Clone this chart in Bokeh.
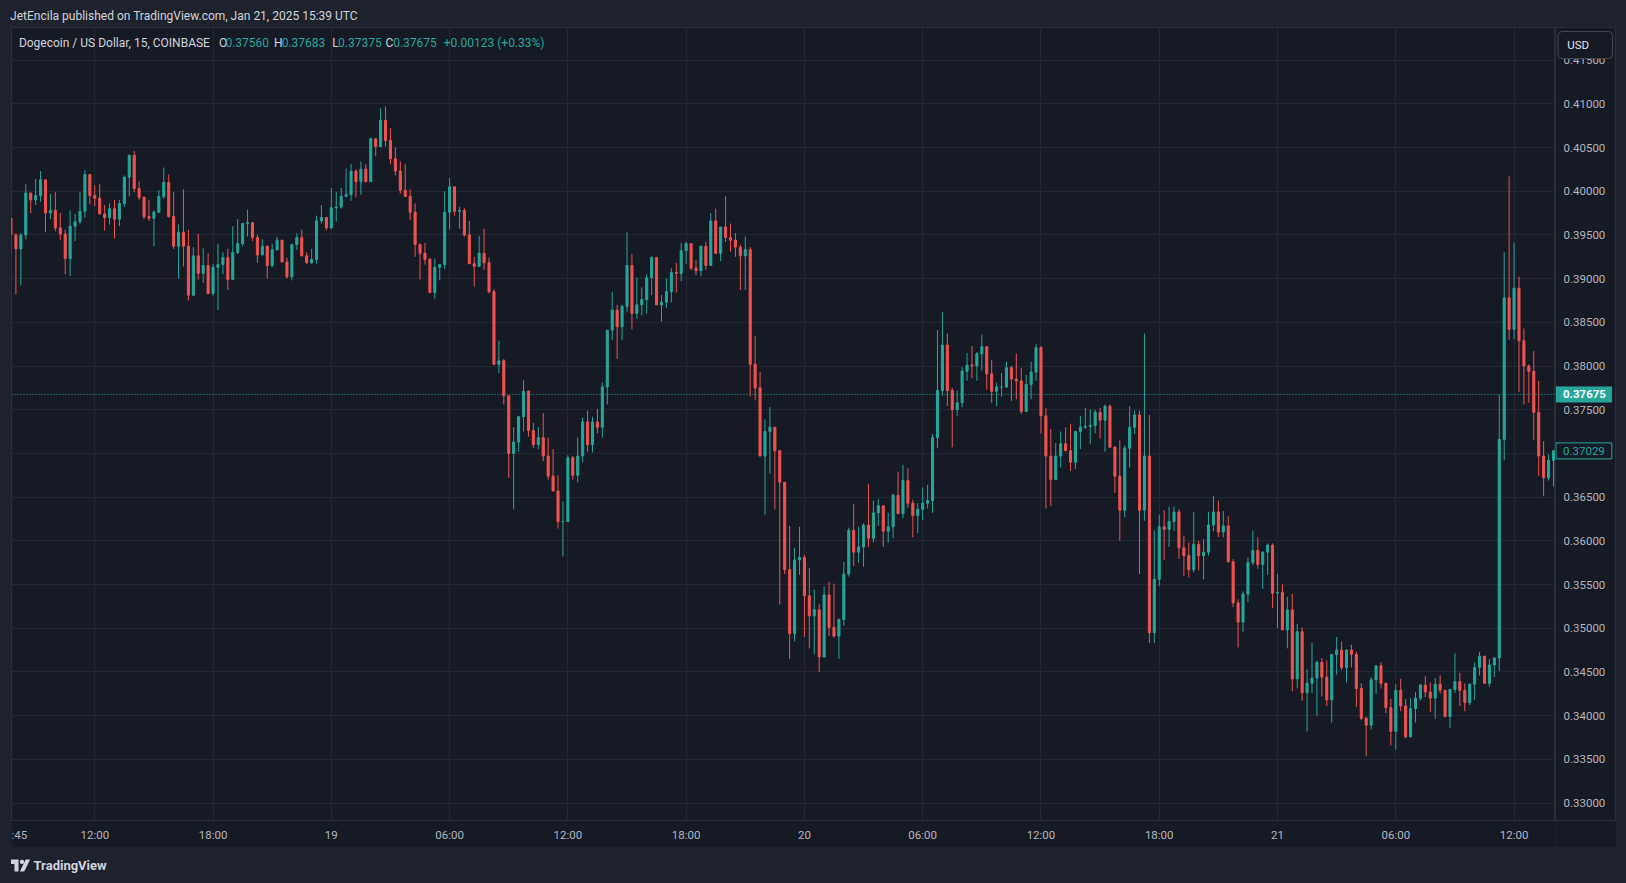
from bokeh.plotting import figure
from bokeh.layouts import column, row
from bokeh.models import (Range1d, FixedTicker, PrintfTickFormatter, Span, Label, Grid,
                          BoxAnnotation, PolyAnnotation, ColumnDataSource)
from bokeh.embed import file_html
from bokeh.resources import INLINE

# ---------------- data (DOGE/USD, 15m, COINBASE) ----------------
first_open = 0.3969
close = [
 .3950,.3934,.3950,.3998,.3990,.3995,.4013,.3975,.3978,.3958,
 .3951,.3923,.3960,.3965,.3977,.4019,.3995,.3992,.3974,.3970,
 .3980,.3968,.3986,.4016,.4041,.4003,.3993,.3971,.3969,.3976,
 .3994,.4010,.3971,.3937,.3953,.3937,.3881,.3926,.3906,.3915,
 .3883,.3913,.3916,.3924,.3899,.3930,.3940,.3963,.3964,.3947,
 .3927,.3937,.3915,.3933,.3944,.3919,.3902,.3939,.3947,.3926,
 .3918,.3922,.3966,.3970,.3958,.3981,.3982,.3994,.3996,.4023,
 .4011,.4025,.4011,.4060,.4051,.4081,.4058,.4037,.4023,.4001,
 .3994,.3976,.3939,.3929,.3922,.3884,.3913,.3916,.3976,.4005,
 .3977,.3978,.3950,.3917,.3914,.3929,.3918,.3885,.3802,.3806,
 .3766,.3700,.3713,.3742,.3771,.3726,.3710,.3718,.3697,.3674,
 .3657,.3622,.3622,.3695,.3675,.3697,.3736,.3710,.3736,.3730,
 .3776,.3841,.3864,.3845,.3868,.3915,.3860,.3870,.3876,.3901,
 .3924,.3870,.3873,.3885,.3907,.3906,.3932,.3940,.3912,.3909,
 .3937,.3915,.3966,.3929,.3959,.3947,.3944,.3936,.3926,.3933,
 .3802,.3775,.3697,.3725,.3730,.3703,.3667,.3567,.3494,.3578,
 .3581,.3537,.3514,.3521,.3467,.3538,.3501,.3491,.3510,.3562,
 .3612,.3587,.3593,.3618,.3603,.3632,.3640,.3611,.3616,.3652,
 .3631,.3669,.3643,.3629,.3636,.3643,.3646,.3718,.3772,.3824,
 .3772,.3750,.3758,.3794,.3801,.3800,.3814,.3822,.3791,.3771,
 .3776,.3776,.3798,.3785,.3783,.3748,.3779,.3793,.3821,.3743,
 .3697,.3670,.3697,.3711,.3703,.3690,.3725,.3730,.3731,.3732,
 .3747,.3738,.3754,.3707,.3674,.3635,.3706,.3730,.3744,.3635,
 .3697,.3495,.3556,.3616,.3613,.3622,.3633,.3592,.3583,.3567,
 .3596,.3583,.3587,.3618,.3633,.3610,.3617,.3576,.3529,.3507,
 .3539,.3575,.3589,.3573,.3587,.3595,.3540,.3541,.3498,.3521,
 .3442,.3496,.3426,.3437,.3443,.3461,.3444,.3418,.3470,.3475,
 .3455,.3475,.3470,.3431,.3397,.3389,.3441,.3457,.3437,.3409,
 .3382,.3429,.3411,.3376,.3408,.3420,.3435,.3427,.3420,.3436,
 .3429,.3399,.3430,.3439,.3429,.3415,.3436,.3455,.3468,.3437,
 .3458,.3466,.3716,.3878,.3842,.3889,.3829,.3800,.3794,.3747,
 .3697,.3672,.3692,.3703]
high = [
 .3971,.3952,.3952,.4008,.3997,.4014,.4023,.4013,.3997,.3999,
 .3975,.3956,.3978,.3974,.3999,.4024,.4019,.4007,.4008,.3984,
 .3986,.3990,.3990,.4018,.4042,.4046,.4011,.3994,.3990,.3978,
 .4001,.4027,.4019,.3999,.3962,.4002,.3956,.3936,.3951,.3935,
 .3929,.3917,.3940,.3930,.3934,.3960,.3968,.3963,.3979,.3964,
 .3950,.3945,.3938,.3940,.3948,.3944,.3924,.3940,.3952,.3956,
 .3930,.3934,.3972,.3984,.3970,.4004,.3999,.4004,.4026,.4031,
 .4025,.4034,.4031,.4061,.4060,.4095,.4097,.4072,.4050,.4034,
 .4031,.4002,.3986,.3940,.3941,.3924,.3923,.3917,.4000,.4015,
 .4005,.3982,.3981,.3966,.3925,.3949,.3957,.3924,.3888,.3829,
 .3808,.3765,.3730,.3742,.3784,.3772,.3735,.3730,.3746,.3718,
 .3705,.3675,.3645,.3698,.3697,.3718,.3741,.3749,.3742,.3751,
 .3781,.3841,.3885,.3870,.3870,.3953,.3928,.3901,.3890,.3905,
 .3926,.3925,.3881,.3900,.3912,.3918,.3941,.3942,.3939,.3921,
 .3938,.3942,.3975,.3980,.3959,.3994,.3963,.3952,.3939,.3948,
 .3936,.3834,.3793,.3739,.3753,.3730,.3704,.3667,.3617,.3592,
 .3616,.3584,.3569,.3544,.3528,.3548,.3553,.3551,.3511,.3576,
 .3615,.3642,.3616,.3620,.3665,.3646,.3648,.3641,.3632,.3654,
 .3679,.3687,.3683,.3647,.3643,.3661,.3664,.3722,.3841,.3862,
 .3837,.3775,.3772,.3799,.3815,.3823,.3816,.3836,.3823,.3807,
 .3781,.3792,.3805,.3800,.3814,.3798,.3790,.3805,.3825,.3823,
 .3752,.3728,.3712,.3725,.3730,.3734,.3726,.3743,.3752,.3750,
 .3750,.3752,.3756,.3756,.3708,.3715,.3709,.3754,.3749,.3749,
 .3837,.3744,.3612,.3630,.3635,.3639,.3639,.3636,.3606,.3598,
 .3633,.3600,.3602,.3633,.3651,.3646,.3634,.3628,.3579,.3533,
 .3542,.3581,.3612,.3604,.3588,.3597,.3597,.3562,.3550,.3536,
 .3539,.3505,.3501,.3453,.3483,.3463,.3466,.3463,.3470,.3490,
 .3485,.3476,.3481,.3473,.3437,.3399,.3444,.3457,.3461,.3437,
 .3419,.3436,.3442,.3419,.3420,.3427,.3436,.3445,.3438,.3443,
 .3446,.3429,.3430,.3471,.3449,.3437,.3437,.3461,.3473,.3468,
 .3465,.3466,.3767,.3930,.4017,.3941,.3902,.3843,.3802,.3817,
 .3783,.3714,.3699,.3704]
low = [
 .3928,.3882,.3892,.3945,.3975,.3984,.3988,.3953,.3968,.3954,
 .3944,.3905,.3903,.3943,.3962,.3970,.3985,.3983,.3974,.3955,
 .3962,.3946,.3960,.3982,.3994,.3999,.3990,.3968,.3966,.3937,
 .3975,.3991,.3970,.3934,.3900,.3914,.3875,.3880,.3899,.3895,
 .3882,.3880,.3864,.3905,.3887,.3899,.3928,.3937,.3948,.3943,
 .3918,.3927,.3900,.3913,.3932,.3919,.3900,.3898,.3933,.3926,
 .3917,.3917,.3917,.3963,.3955,.3957,.3965,.3980,.3993,.3989,
 .3993,.3996,.4010,.4011,.4040,.4051,.4051,.4031,.4018,.3997,
 .3994,.3967,.3925,.3899,.3916,.3884,.3877,.3898,.3911,.3956,
 .3972,.3957,.3948,.3917,.3891,.3914,.3910,.3883,.3801,.3792,
 .3756,.3672,.3636,.3702,.3725,.3719,.3706,.3705,.3691,.3670,
 .3657,.3614,.3582,.3622,.3670,.3667,.3690,.3702,.3701,.3723,
 .3718,.3756,.3830,.3808,.3830,.3862,.3842,.3854,.3858,.3860,
 .3881,.3870,.3851,.3866,.3873,.3884,.3897,.3917,.3910,.3904,
 .3903,.3910,.3915,.3928,.3920,.3942,.3931,.3925,.3887,.3887,
 .3765,.3761,.3697,.3630,.3677,.3636,.3527,.3562,.3465,.3485,
 .3561,.3490,.3477,.3470,.3450,.3467,.3491,.3489,.3465,.3503,
 .3559,.3571,.3575,.3570,.3593,.3598,.3617,.3593,.3598,.3603,
 .3631,.3626,.3638,.3604,.3609,.3624,.3637,.3632,.3706,.3766,
 .3754,.3707,.3743,.3753,.3783,.3786,.3783,.3795,.3773,.3758,
 .3754,.3765,.3775,.3760,.3762,.3745,.3748,.3762,.3783,.3723,
 .3637,.3640,.3670,.3684,.3703,.3680,.3682,.3705,.3728,.3711,
 .3723,.3717,.3702,.3707,.3655,.3600,.3627,.3684,.3722,.3562,
 .3623,.3483,.3483,.3548,.3578,.3593,.3611,.3579,.3560,.3558,
 .3564,.3566,.3556,.3583,.3611,.3604,.3604,.3575,.3524,.3478,
 .3496,.3530,.3572,.3568,.3545,.3561,.3523,.3500,.3498,.3477,
 .3428,.3431,.3417,.3382,.3426,.3400,.3422,.3411,.3392,.3447,
 .3452,.3438,.3455,.3410,.3395,.3354,.3384,.3425,.3431,.3403,
 .3366,.3361,.3405,.3374,.3375,.3392,.3417,.3421,.3404,.3396,
 .3425,.3398,.3386,.3426,.3411,.3405,.3412,.3418,.3446,.3437,
 .3433,.3444,.3451,.3692,.3830,.3831,.3770,.3756,.3758,.3715,
 .3674,.3651,.3669,.3662]

price_ticks = [0.330, 0.335, 0.340, 0.345, 0.350, 0.355, 0.360, 0.365, 0.370,
               0.375, 0.380, 0.385, 0.390, 0.395, 0.400, 0.405, 0.410, 0.415]
time_tick_bars = [17, 41, 65, 89, 113, 137, 161, 185, 209, 233, 257, 281, 305]
time_tick_labels = ["12:00", "18:00", "19", "06:00", "12:00", "18:00", "20",
                    "06:00", "12:00", "18:00", "21", "06:00", "12:00"]
partial_first_label = ":45"
last_price = 0.37675
last_price_text = "0.37675"
visible_close = 0.37029
visible_close_text = "0.37029"
header_text = "JetEncila published on TradingView.com, Jan 21, 2025 15:39 UTC"
symbol_text = "Dogecoin / US Dollar, 15, COINBASE"
legend_o, legend_h, legend_l, legend_c = "0.37560", "0.37683", "0.37375", "0.37675"
legend_change = "+0.00123 (+0.33%)"

# ---------------- styles ----------------
BG = "#161a25"
OUTER = "#1e222d"
GRID = "#232733"
SEP = "#2a2e39"
UP = "#26a69a"
DOWN = "#ef5350"
TXT = "#d1d4dc"
AXT = "#b2b5be"
FONT = "Roboto"
W, H = 1626, 883
HEAD_H, FOOT_H = 27, 36
BODY_H = H - HEAD_H - FOOT_H          # 820
LEFT_W, PRICE_W, RIGHT_W = 11, 61, 10
MAIN_W = W - LEFT_W - PRICE_W - RIGHT_W  # 1544
AXIS_H = 27


def plain(width, height, color):
    f = figure(width=width, height=height, output_backend="svg", toolbar_location=None,
               x_axis_type=None, y_axis_type=None, x_range=Range1d(0, 1),
               y_range=Range1d(0, 1), min_border=0, background_fill_color=color,
               border_fill_color=color, outline_line_color=None)
    f.title.visible = False
    return f


def clabel(x, y, text, color=TXT, size="12px", align="left", style="normal"):
    return Label(x=x, y=y, x_units="canvas", y_units="canvas", text=text,
                 text_color=color, text_font=FONT, text_font_size=size,
                 text_align=align, text_baseline="middle", text_font_style=style)


def cbox(l, r, t, b, color, **kw):
    return BoxAnnotation(left=l, right=r, top=t, bottom=b, left_units="canvas",
                         right_units="canvas", top_units="canvas", bottom_units="canvas",
                         fill_color=color, fill_alpha=1, **kw)


# ---------------- header ----------------
head = plain(W, HEAD_H, OUTER)
head.add_layout(clabel(9.6, 15, header_text))

# ---------------- main candle panel ----------------
yr = Range1d(0.32800, 0.41873)
p = figure(width=MAIN_W, height=BODY_H, output_backend="svg", toolbar_location=None,
           x_range=Range1d(0.1015, 313.41), y_range=yr, y_axis_type=None,
           min_border_left=0, min_border_right=0, min_border_top=0,
           min_border_bottom=AXIS_H, background_fill_color=BG, border_fill_color=BG,
           outline_line_color=SEP)
p.title.visible = False
xa = p.xaxis[0]
xa.ticker = FixedTicker(ticks=[1.5] + time_tick_bars)
overrides = {1.5: partial_first_label}
for t, lab in zip(time_tick_bars, time_tick_labels):
    overrides[t] = lab
xa.major_label_overrides = overrides
xa.axis_line_color = SEP
xa.major_tick_line_color = None
xa.minor_tick_line_color = None
xa.major_tick_out = 0
xa.major_tick_in = 0
xa.minor_tick_out = 0
xa.major_label_text_color = AXT
xa.major_label_text_font = FONT
xa.major_label_text_font_size = "11.5px"
xa.major_label_standoff = 7
p.xgrid.ticker = FixedTicker(ticks=time_tick_bars)
p.xgrid.grid_line_color = GRID
p.add_layout(Grid(dimension=1, ticker=FixedTicker(ticks=price_ticks), grid_line_color=GRID))

opens = [first_open] + close[:-1]
cols = [UP if c >= o else DOWN for o, c in zip(opens, close)]
src = ColumnDataSource(dict(x=list(range(len(close))), o=opens, c=close,
                            h=high, l=low, col=cols))
p.segment(x0="x", y0="l", x1="x", y1="h", line_color="col", line_width=1, source=src)
p.vbar(x="x", width=0.42, top="o", bottom="c", fill_color="col",
       line_color="col", line_width=1, source=src)

p.add_layout(Span(location=last_price, dimension="width", line_color=UP,
                  line_dash="1 2", line_width=1))

for txt, x, col in [(symbol_text, 18.4, TXT), ("O", 218.4, TXT), (legend_o, 224.9, UP),
                    ("H", 273.6, TXT), (legend_h, 281.2, UP), ("L", 331.8, TXT),
                    (legend_l, 337.5, UP), ("C", 385.0, TXT), (legend_c, 392.7, UP),
                    (legend_change, 443.3, UP)]:
    p.add_layout(clabel(x - LEFT_W, 15, txt, col))

# ---------------- price scale ----------------
ps = figure(width=PRICE_W, height=BODY_H, output_backend="svg", toolbar_location=None,
            x_range=Range1d(0, 1), y_range=yr, x_axis_type=None, y_axis_location="right",
            min_border_left=0, min_border_right=0, min_border_top=0,
            min_border_bottom=AXIS_H, background_fill_color=BG, border_fill_color=BG,
            outline_line_color=SEP)
ps.title.visible = False
ya = ps.yaxis[0]
ya.ticker = FixedTicker(ticks=price_ticks)
ya.formatter = PrintfTickFormatter(format="%.5f")
ya.axis_line_color = None
ya.major_tick_line_color = None
ya.minor_tick_line_color = None
ya.major_tick_out = 0
ya.major_tick_in = 0
ya.minor_tick_out = 0
ya.major_label_text_color = AXT
ya.major_label_text_font = FONT
ya.major_label_text_font_size = "11.5px"
ya.major_label_standoff = -53
ps.ygrid.grid_line_color = None

ps.add_layout(Label(x=0.5, y=last_price, x_units="canvas", y_units="data",
                    text=last_price_text, text_color="#ffffff", text_font=FONT,
                    text_font_size="11.5px", text_font_style="bold",
                    text_baseline="middle", text_align="left",
                    background_fill_color=UP, background_fill_alpha=1,
                    padding=dict(left=7, right=6, top=4, bottom=4)))
ps.add_layout(Label(x=0.5, y=visible_close, x_units="canvas", y_units="data",
                    text=visible_close_text, text_color=UP, text_font=FONT,
                    text_font_size="11.5px", text_baseline="middle", text_align="left",
                    background_fill_color=BG, background_fill_alpha=1,
                    border_line_color=UP, border_line_alpha=1,
                    padding=dict(left=7, right=7, top=4, bottom=4)))
ps.add_layout(cbox(2.5, 57, 4, 31, BG, line_color="#434651", line_alpha=1,
                   line_width=1, border_radius=4))
ps.add_layout(clabel(11.7, 17.3, "USD", "#e0e3eb", "11.5px", "left"))

# ---------------- side strips ----------------
left_strip = plain(LEFT_W, BODY_H, OUTER)
right_strip = plain(RIGHT_W, BODY_H, OUTER)

# ---------------- footer ----------------
foot = plain(W, FOOT_H, OUTER)
foot.add_layout(PolyAnnotation(xs=[10.5, 18, 18, 14, 14, 10.5], ys=[12, 12, 24, 24, 16.5, 16.5],
                               xs_units="canvas", ys_units="canvas", fill_color=TXT,
                               fill_alpha=1, line_color=None))
foot.add_layout(cbox(19.3, 23.7, 12.2, 16.6, TXT, line_color=None, border_radius=2))
foot.add_layout(PolyAnnotation(xs=[25.2, 29.6, 23.8, 19.4], ys=[12, 12, 24, 24],
                               xs_units="canvas", ys_units="canvas", fill_color=TXT,
                               fill_alpha=1, line_color=None))
foot.add_layout(clabel(33, 18, "TradingView", TXT, "13px", "left", "bold"))

layout = column(head, row(left_strip, p, ps, right_strip, spacing=0), foot, spacing=0)

html = file_html(layout, INLINE, title="DOGEUSD 15m")
html = html.replace("<head>", "<head><style>html,body{margin:0;padding:0;background:#1e222d;overflow:hidden}</style>", 1)
open("out.html", "w").write(html)
